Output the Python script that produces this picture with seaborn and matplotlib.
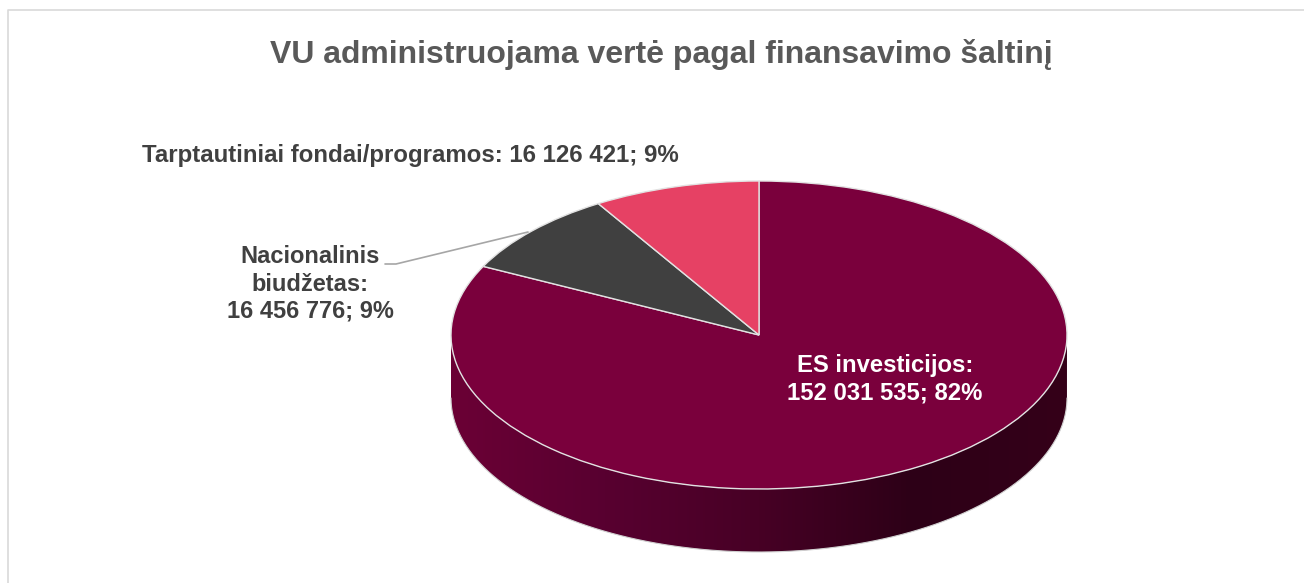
import numpy as np
import seaborn as sns
import matplotlib.pyplot as plt
from matplotlib.lines import Line2D
from matplotlib.path import Path
from matplotlib.patches import PathPatch
from matplotlib.colors import LinearSegmentedColormap

categories = ['ES investicijos', 'Nacionalinis biudžetas', 'Tarptautiniai fondai/programos']
values = [152031535, 16456776, 16126421]
colors = ['#7a003c', '#404040', '#e64164']
title = 'VU administruojama vertė pagal finansavimo šaltinį'
label_es = 'ES investicijos:\n152 031 535; 82%'
label_nat = 'Nacionalinis\nbiudžetas:\n16 456 776; 9%'
label_int = 'Tarptautiniai fondai/programos: 16 126 421; 9%'

W, H = 1304, 583

sns.set_style('white')
plt.rcParams['font.family'] = ['Liberation Sans', 'DejaVu Sans']

fig = plt.figure(figsize=(W / 100, H / 100), dpi=100)

# axes box around the pie, the extra bit at the bottom is the 3d depth
left, right, top, bottom = 451, 1067, 181, 552
ax = fig.add_axes([left / W, 1 - bottom / H, (right - left) / W, (bottom - top) / H])
depth = 63 / 154

# side of the pie with a horizontal gradient
t = np.linspace(np.pi, 2 * np.pi, 200)
side_x = np.concatenate([np.cos(t), np.cos(t[::-1])])
side_y = np.concatenate([np.sin(t), np.sin(t[::-1]) - depth])
side_path = Path(np.column_stack([side_x, side_y]))
side_cmap = LinearSegmentedColormap.from_list('side', ['#6b0035', '#580030', '#470025', '#2d0017', '#350019'])
im = ax.imshow(np.linspace(0, 1, 256).reshape(1, -1), cmap=side_cmap, aspect='auto',
               extent=(-1, 1, -1 - depth, 0))
im.set_clip_path(PathPatch(side_path, transform=ax.transData))
ax.plot(np.cos(t), np.sin(t) - depth, color='#d0d0d0', lw=0.8, clip_on=False)

# top of the pie, stretched into an ellipse by the auto aspect
wedges, _ = ax.pie(values, colors=colors, startangle=90, counterclock=False, radius=1,
                   wedgeprops={'edgecolor': '#e2e2e2', 'linewidth': 1, 'clip_on': False})
ax.set_aspect('auto')
ax.set_xlim(-1, 1)
ax.set_ylim(-1 - depth, 1)
ax.axis('off')

# chart border
border_color = '#d9d9d9'
fig.add_artist(Line2D([8 / W, 8 / W, 1], [0, 1 - 10 / H, 1 - 10 / H], color=border_color, lw=1.2))

# leader line for the national budget label
fig.add_artist(Line2D(np.array([385, 396, 528]) / W, 1 - np.array([264, 264, 232]) / H,
                      color='#a6a6a6', lw=1.2))

# texts, placed in pixels
def put(x, y, s, size, color, ha='center'):
    fig.text(x / W, 1 - y / H, s, fontsize=size, color=color, fontweight='bold',
             ha=ha, va='center', linespacing=1.24)

put(661, 54, title, 23.05, '#595959')
put(142, 155, label_int, 17.3, '#404040', ha='left')
put(310, 284, label_nat, 17, '#404040')
put(885, 379, label_es, 17.2, '#ffffff')

fig.savefig('out.png', dpi=100)
